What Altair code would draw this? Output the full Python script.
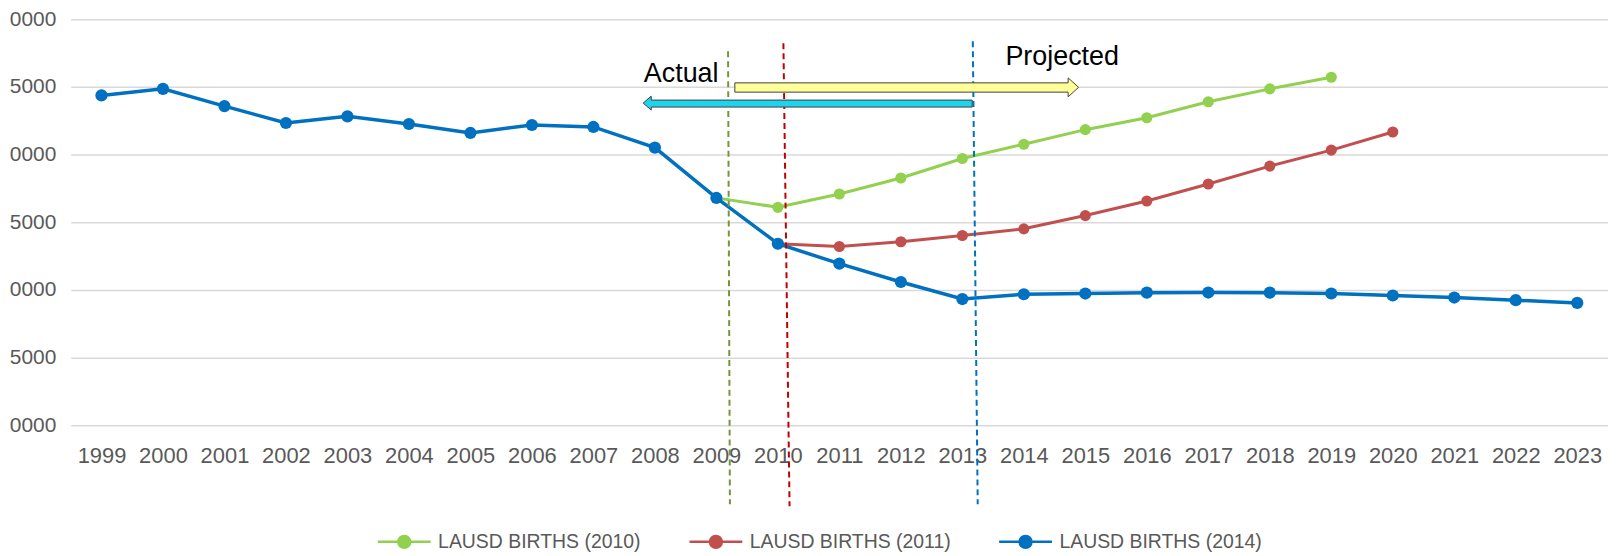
import altair as alt
import pandas as pd

# ---- data ----
years_2014 = list(range(1999, 2024))
births_2014 = [74368, 74850, 73581, 72331, 72824, 72257, 71596, 72184, 72037,
               70515, 66794, 63412, 61941, 60588, 59330, 59684, 59735, 59800,
               59810, 59800, 59740, 59590, 59440, 59245, 59045]

years_2010 = list(range(2009, 2020))
births_2010 = [66800, 66103, 67088, 68265, 69706, 70765, 71838, 72721, 73897,
               74853, 75713]

years_2011 = list(range(2010, 2021))
births_2011 = [63412, 63213, 63559, 64022, 64515, 65493, 66574, 67824, 69147,
               70324, 71669]

series_names = ["LAUSD BIRTHS (2010)", "LAUSD BIRTHS (2011)", "LAUSD BIRTHS (2014)"]
series_colors = ["#92D050", "#C0504D", "#0070C0"]
series_widths = [3, 3, 3.5]
series_sizes = [125, 125, 150]

x_ticks = list(range(1999, 2024))
y_ticks = [50000, 55000, 60000, 65000, 70000, 75000, 80000]

# dashed marker lines (year position, births at top/bottom)
vline_x = [2009.19, 2010.09, 2013.17]
vline_x2 = [2009.22, 2010.19, 2013.25]
vline_top = [77625, 78213, 78360]
vline_bottom = [44169, 44022, 44169]
vline_colors = ["#77933C", "#C00000", "#0070C0"]

# arrows (outline points: x, upper, lower)
proj_arrow_x = [2009.30, 2014.72, 2014.721, 2014.89]
proj_arrow_hi = [75294, 75294, 75662, 74963]
proj_arrow_lo = [74610, 74610, 74265, 74963]
act_arrow_x = [2007.81, 2007.94, 2007.941, 2013.16]
act_arrow_hi = [73801, 74316, 74022, 74022]
act_arrow_lo = [73801, 73287, 73507, 73507]

labels_text = ["Actual", "Projected"]
labels_x = [2007.82, 2013.70]
labels_y = [75368, 76596]

# ---- tables ----
rows = []
for name, yrs, vals in zip(series_names,
                           [years_2010, years_2011, years_2014],
                           [births_2010, births_2011, births_2014]):
    for yv, bv in zip(yrs, vals):
        rows.append({"year": yv, "births": bv, "series": name})
df = pd.DataFrame(rows)

vdf = pd.DataFrame({"x": vline_x, "x2": vline_x2, "y": vline_top,
                    "y2": vline_bottom, "c": vline_colors})
pdf = pd.DataFrame({"x": proj_arrow_x, "hi": proj_arrow_hi, "lo": proj_arrow_lo})
adf = pd.DataFrame({"x": act_arrow_x, "hi": act_arrow_hi, "lo": act_arrow_lo})
tdf = pd.DataFrame({"t": labels_text, "x": labels_x, "y": labels_y})

FONT = "Liberation Sans"
x_scale = alt.Scale(domain=[1998.5, 2023.5], nice=False, zero=False)
y_scale = alt.Scale(domain=[50000, 80000], nice=False, zero=False)
color_scale = alt.Scale(domain=series_names, range=series_colors)

sym_path = ("M-1,0L1,0M-0.226,0A0.226,0.226,0,1,1,0.226,0"
            "A0.226,0.226,0,1,1,-0.226,0Z")

legend = alt.Legend(title=None, orient="none", direction="horizontal",
                    legendX=307, legendY=497, symbolType=sym_path,
                    symbolSize=2809, symbolStrokeWidth=2.5,
                    labelFontSize=19.5, labelColor="#595959", labelFont=FONT,
                    labelLimit=400, columnPadding=43, labelOffset=6,
                    padding=0)

x_enc = alt.X("year:Q", scale=x_scale,
              axis=alt.Axis(values=x_ticks, format="d", title=None, grid=False,
                            domain=False, ticks=False, labelFontSize=22,
                            labelColor="#595959", labelFont=FONT,
                            labelPadding=20, labelOverlap=False))
y_enc = alt.Y("births:Q", scale=y_scale,
              axis=alt.Axis(values=y_ticks, format="d", title=None, grid=True,
                            gridColor="#D9D9D9", gridWidth=1.5, domain=False,
                            ticks=False, labelFontSize=21, labelColor="#595959",
                            labelFont=FONT, labelPadding=15,
                            labelExpr="substring(datum.label, 1)"))
color_enc = alt.Color("series:N", scale=color_scale, legend=legend)

layers = []
for name, w, s in zip(series_names, series_widths, series_sizes):
    base = alt.Chart(df).transform_filter(alt.datum.series == name)
    layers.append(base.mark_line(strokeWidth=w).encode(x=x_enc, y=y_enc, color=color_enc))
    layers.append(base.mark_point(filled=True, size=s, opacity=1).encode(
        x=x_enc, y=y_enc, color=color_enc))

rules = alt.Chart(vdf).mark_rule(strokeDash=[6, 4], strokeWidth=2).encode(
    x=alt.X("x:Q", scale=x_scale), x2="x2:Q",
    y=alt.Y("y:Q", scale=y_scale), y2="y2:Q",
    stroke=alt.Stroke("c:N", scale=None))

proj_arrow = alt.Chart(pdf).mark_area(color="#FFFF99", stroke="#404040",
                                      strokeWidth=1, opacity=1).encode(
    x=alt.X("x:Q", scale=x_scale), y=alt.Y("hi:Q", scale=y_scale), y2="lo:Q")
act_arrow = alt.Chart(adf).mark_area(color="#1CD4EE", stroke="#404040",
                                     strokeWidth=1, opacity=1).encode(
    x=alt.X("x:Q", scale=x_scale), y=alt.Y("hi:Q", scale=y_scale), y2="lo:Q")

texts = alt.Chart(tdf).mark_text(align="left", baseline="alphabetic",
                                 fontSize=27, font=FONT, color="#000000").encode(
    x=alt.X("x:Q", scale=x_scale), y=alt.Y("y:Q", scale=y_scale), text="t:N")

chart = alt.layer(*layers, rules, act_arrow, proj_arrow, texts).properties(
    width=1544, height=408,
    autosize=alt.AutoSizeParams(type="none"),
    padding={"left": 63, "top": 10, "right": 0, "bottom": 128},
).configure_view(stroke=None)

chart.save("out.html", embed_options={"renderer": "svg", "actions": False})
